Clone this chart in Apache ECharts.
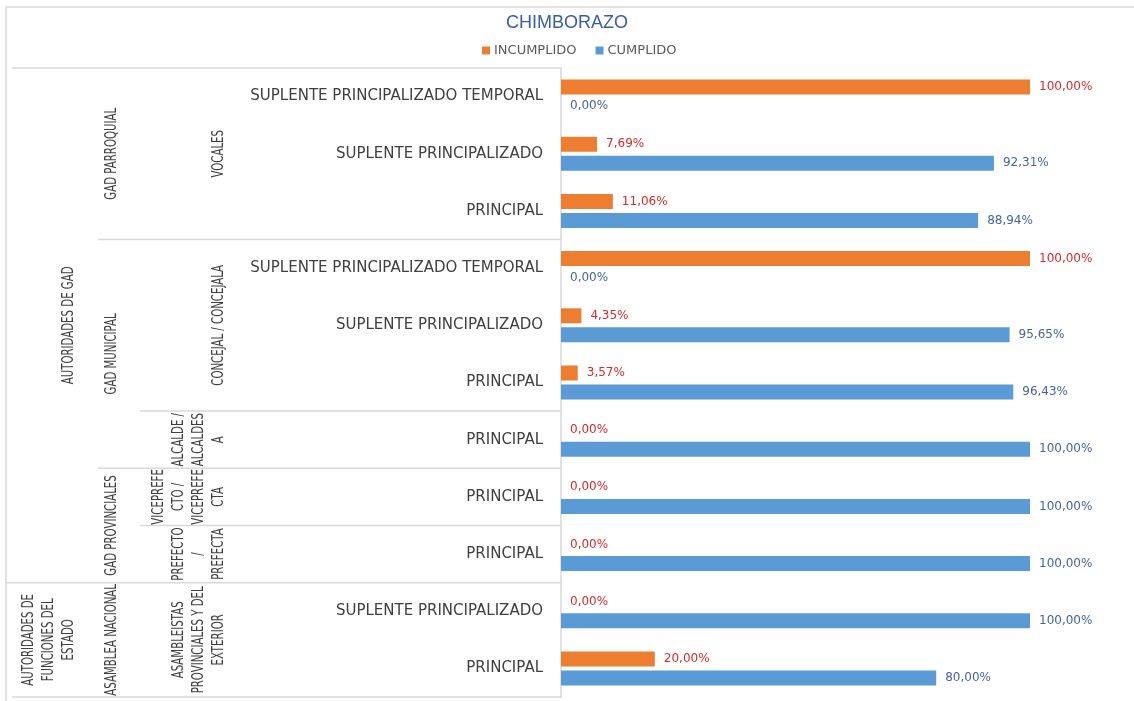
<!DOCTYPE html>
<html>
<head>
<meta charset="utf-8">
<title>CHIMBORAZO</title>
<script src="https://cdn.jsdelivr.net/npm/echarts@6/dist/echarts.min.js"></script>
<style>
  html, body { margin: 0; padding: 0; background: #fff; }
  #main { width: 1134px; height: 701px; }
</style>
</head>
<body>
<div id="main"></div>
<script>
// filas del grafico, de arriba hacia abajo
const cargos = [
  'SUPLENTE PRINCIPALIZADO TEMPORAL',
  'SUPLENTE PRINCIPALIZADO',
  'PRINCIPAL',
  'SUPLENTE PRINCIPALIZADO TEMPORAL',
  'SUPLENTE PRINCIPALIZADO',
  'PRINCIPAL',
  'PRINCIPAL',
  'PRINCIPAL',
  'PRINCIPAL',
  'SUPLENTE PRINCIPALIZADO',
  'PRINCIPAL'
];
const incumplido = [100, 7.69, 11.06, 100, 4.35, 3.57, 0, 0, 0, 0, 20];
const cumplido = [0, 92.31, 88.94, 0, 95.65, 96.43, 100, 100, 100, 100, 80];

// grupos de las etiquetas (desde / hasta = indice de fila)
const nivel1 = [
  { nombre: 'AUTORIDADES DE GAD', desde: 0, hasta: 8 },
  { nombre: 'AUTORIDADES DE\nFUNCIONES DEL\nESTADO', desde: 9, hasta: 10 }
];
const nivel2 = [
  { nombre: 'GAD PARROQUIAL', desde: 0, hasta: 2 },
  { nombre: 'GAD MUNICIPAL', desde: 3, hasta: 6 },
  { nombre: 'GAD PROVINCIALES', desde: 7, hasta: 8 },
  { nombre: 'ASAMBLEA NACIONAL', desde: 9, hasta: 10 }
];
const nivel3 = [
  { nombre: 'VOCALES', desde: 0, hasta: 2 },
  { nombre: 'CONCEJAL / CONCEJALA', desde: 3, hasta: 5 },
  { nombre: 'ALCALDE /\nALCALDES\nA', desde: 6, hasta: 6 },
  { nombre: 'VICEPREFE\nCTO /\nVICEPREFE\nCTA', desde: 7, hasta: 7 },
  { nombre: 'PREFECTO\n/\nPREFECTA', desde: 8, hasta: 8 },
  { nombre: 'ASAMBLEISTAS\nPROVINCIALES Y DEL\nEXTERIOR', desde: 9, hasta: 10 }
];

const gris = '#d9d9d9';

function porcentaje(p) {
  return p.value.toFixed(2).replace('.', ',') + '%';
}

const option = {
  animation: false,
  title: {
    text: 'CHIMBORAZO',
    left: 'center',
    top: 9,
    textStyle: { color: '#3B5CA8', fontSize: 18, fontWeight: 'normal', fontFamily: 'Liberation Sans' }
  },
  legend: {
    data: ['INCUMPLIDO', 'CUMPLIDO'],
    top: 39,
    left: 477,
    icon: 'rect',
    itemWidth: 8,
    itemHeight: 8,
    itemGap: 19,
    textStyle: { color: '#595959', fontSize: 13, fontFamily: 'DejaVu Sans', padding: [0, 0, 0, -1] }
  },
  grid: { left: 561, right: 104, top: 68, bottom: 4 },
  xAxis: {
    type: 'value',
    min: 0,
    max: 100,
    show: false
  },
  yAxis: {
    type: 'category',
    inverse: true,
    data: cargos,
    axisLine: { show: true, lineStyle: { color: gris, width: 1.5 } },
    axisTick: { show: false },
    axisLabel: { color: '#404040', fontSize: 15, fontFamily: 'DejaVu Sans', margin: 18 }
  },
  series: [
    {
      name: 'INCUMPLIDO',
      type: 'bar',
      data: incumplido,
      barWidth: 15,
      barGap: '27%',
      itemStyle: { color: '#ED7D31' },
      label: { show: true, position: 'right', distance: 9, formatter: porcentaje,
               color: '#D42B2B', fontSize: 12, fontFamily: 'DejaVu Sans' }
    },
    {
      name: 'CUMPLIDO',
      type: 'bar',
      data: cumplido,
      barWidth: 15,
      itemStyle: { color: '#5B9BD5' },
      label: { show: true, position: 'right', distance: 9, formatter: porcentaje,
               color: '#46649F', fontSize: 12, fontFamily: 'DejaVu Sans' }
    }
  ]
};

const chart = echarts.init(document.getElementById('main'));
chart.setOption(option);

// etiquetas agrupadas y separadores a partir de la escala del eje
const centro0 = chart.convertToPixel({ yAxisIndex: 0 }, 0);
const paso = chart.convertToPixel({ yAxisIndex: 0 }, 1) - centro0;
function bordeSup(i) { return chart.convertToPixel({ yAxisIndex: 0 }, i) - paso / 2; }
const ejeX = chart.convertToPixel({ xAxisIndex: 0 }, 0);

const niveles = [nivel1, nivel2, nivel3];
const inicioNivel = [6, 98, 140];
const textoX = [79, 122, 229];

function grupoDe(nivel, i) {
  return nivel.findIndex(g => i >= g.desde && i <= g.hasta);
}

const graficos = [];
// borde exterior
graficos.push({
  type: 'rect', silent: true,
  shape: { x: 6, y: 7, width: 1150, height: 720 },
  style: { fill: 'none', stroke: gris, lineWidth: 1.5 }
});

function linea(x1, y) {
  graficos.push({
    type: 'line', silent: true,
    shape: { x1: x1, y1: y, x2: ejeX, y2: y },
    style: { stroke: gris, lineWidth: 1.5 }
  });
}
linea(12, bordeSup(0));
linea(12, bordeSup(cargos.length - 1) + paso);
for (let i = 1; i < cargos.length; i++) {
  for (let k = 0; k < niveles.length; k++) {
    if (grupoDe(niveles[k], i) !== grupoDe(niveles[k], i - 1)) {
      linea(inicioNivel[k], bordeSup(i));
      break;
    }
  }
}

// texto girado y angostado (no hay fuente condensada instalada)
niveles.forEach((nivel, k) => {
  nivel.forEach(g => {
    const yc = (bordeSup(g.desde) + bordeSup(g.hasta) + paso) / 2;
    graficos.push({
      type: 'text', silent: true,
      x: textoX[k], y: yc,
      rotation: Math.PI / 2,
      scaleX: 0.68,
      style: {
        text: g.nombre,
        fill: '#404040',
        fontSize: 15,
        fontFamily: 'DejaVu Sans',
        lineHeight: 20,
        align: 'center',
        verticalAlign: 'bottom'
      }
    });
  });
});

chart.setOption({ graphic: graficos });
</script>
</body>
</html>
